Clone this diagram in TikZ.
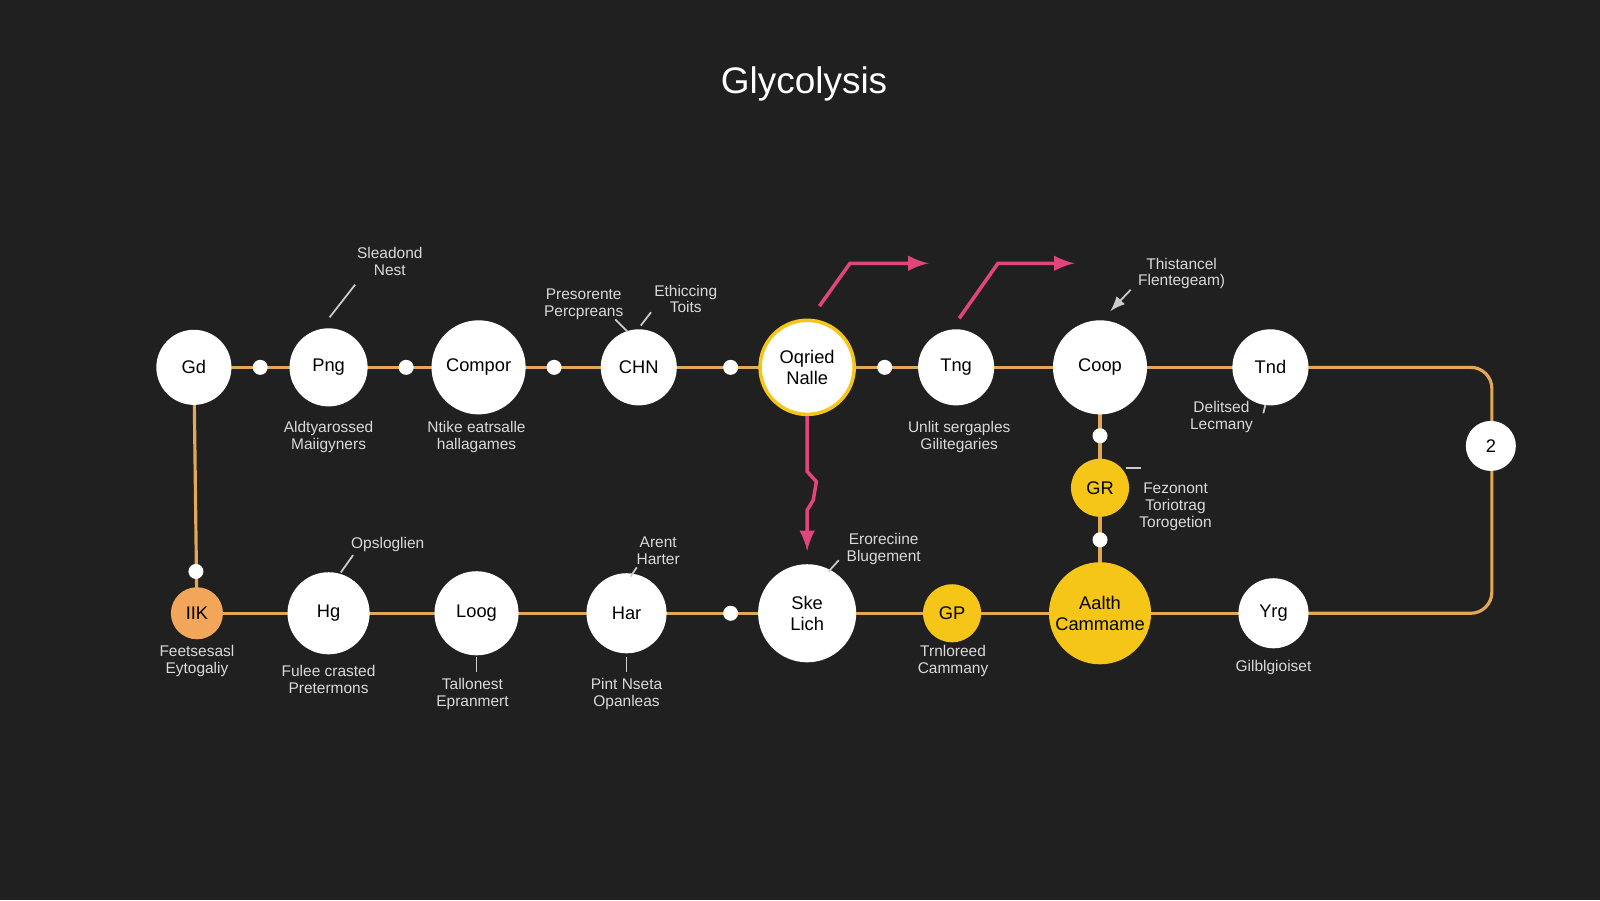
\documentclass[tikz,border=0pt]{standalone}
\usepackage{fontspec}
\setmainfont{Liberation Sans}
\usetikzlibrary{positioning, backgrounds}
\definecolor{bg}{HTML}{202020}
\definecolor{track}{HTML}{E3A857}
\definecolor{gold}{HTML}{F5C518}
\definecolor{amber}{HTML}{F2A65A}
\definecolor{rose}{HTML}{E0457B}
\tikzset{
  stage/.style={circle, fill=white, text=black, inner sep=0pt, font=\fontsize{5.2}{5.8}\selectfont, align=center},
  dot/.style={circle, fill=white, inner sep=0pt, minimum size=0.15cm},
  note/.style={text=white!85!black, font=\fontsize{4.4}{4.8}\selectfont, align=center},
  link/.style={track, line width=0.9pt},
  ptr/.style={white!80!black, line width=0.5pt},
  flux/.style={rose, line width=1pt, -latex}
}
\begin{document}
\begin{tikzpicture}[x=0.0102cm, y=-0.0102cm]
\node[text=white, font=\fontsize{10.5}{12}\selectfont] (title) at (788,82) {Glycolysis};

% top row
\node[stage, minimum size=0.75cm] (gd) at (190,360) {Gd};
\node[stage, minimum size=0.78cm] (png) at (322,360) {Png};
\node[stage, minimum size=0.94cm] (compor) at (469,360) {Compor};
\node[stage, minimum size=0.76cm] (chn) at (626,360) {CHN};
\node[stage, minimum size=0.94cm, draw=gold, line width=1pt] (oqried) at (791,360) {Oqried\\Nalle};
\node[stage, minimum size=0.76cm] (tng) at (937,360) {Tng};
\node[stage, minimum size=0.94cm] (coop) at (1078,360) {Coop};
\node[stage, minimum size=0.76cm] (tnd) at (1245,360) {Tnd};
\node[stage, minimum size=0.5cm] (two) at (1461,437) {2};

% bottom row
\node[stage, minimum size=0.52cm, fill=amber] (iik) at (193,601) {IIK};
\node[stage, minimum size=0.82cm] (hg) at (322,601) {Hg};
\node[stage, minimum size=0.84cm] (loog) at (467,601) {Loog};
\node[stage, minimum size=0.8cm] (har) at (614,601) {Har};
\node[stage, minimum size=0.98cm] (ske) at (791,601) {Ske\\Lich};
\node[stage, minimum size=0.58cm, fill=gold] (gp) at (933,601) {GP};
\node[stage, minimum size=1.02cm, fill=gold] (aalth) at (1078,601) {Aalth\\Cammame};
\node[stage, minimum size=0.7cm] (yrg) at (1248,601) {Yrg};
\node[stage, minimum size=0.58cm, fill=gold] (gr) at (1078,478) {GR};

% junction dots
\node[dot] (d1) at (255,360) {};
\node[dot] (d2) at (398,360) {};
\node[dot] (d3) at (543,360) {};
\node[dot] (d4) at (716,360) {};
\node[dot] (d5) at (867,360) {};
\node[dot] (d6) at (716,601) {};
\node[dot] (d7) at (192,560) {};
\node[dot] (d8) at (1078,427) {};
\node[dot] (d9) at (1078,529) {};
\coordinate (ne) at (1462,360);
\coordinate (se) at (1462,601);

\begin{pgfonlayer}{background}
\fill[bg] (0,0) rectangle (1568,882);
\draw[link] (gd.center) -- (tnd.center);
\draw[link, rounded corners=6pt] (tnd.center) -- (ne) -- (se) -- (yrg.center);
\draw[link] (iik.center) -- (yrg.center);
\draw[link] (gd.center) -- (iik.center);
\draw[link] (coop.center) -- (aalth.center);
\end{pgfonlayer}

% flux arrows
\draw[flux] (oqried) -- (791,462) -- (800,472) -- (797,490) -- (791,500) -- (791,540);
\draw[flux] (803,300) -- (833,258) -- (910,258);
\draw[flux] (940,312) -- (978,258) -- (1053,258);

% notes
\node[note] (n1) at (382,256) {Sleadond\\Nest};
\draw[ptr] (348,279) -- (323,311);
\node[note] (n2) at (572,298) {Presorente\\Percpreans};
\draw[ptr] (603,313) -- (615,325);
\node[note] (n3) at (672,293) {Ethiccing\\Toits};
\draw[ptr] (638,306) -- (628,319);
\node[note] (n4) at (1158,268) {Thistancel\\Flentegeam)};
\draw[ptr, -latex] (1108,284) -- (1088,305);
\node[note] (n5) at (322,428) {Aldtyarossed\\Maiigyners};
\node[note] (n6) at (467,428) {Ntike eatrsalle\\hallagames};
\node[note] (n7) at (940,428) {Unlit sergaples\\Gilitegaries};
\node[note] (n8) at (1197,409) {Delitsed\\Lecmany};
\draw[ptr] (1240,397) -- (1238,405);
\node[note] (n9) at (1152,497) {Fezonont\\Toriotrag\\Torogetion};
\draw[ptr] (1103,459) -- (1118,459);
\node[note] (n10) at (380,534) {Opsloglien};
\draw[ptr] (346,544) -- (334,561);
\node[note] (n11) at (645,540) {Arent\\Harter};
\draw[ptr] (624,556) -- (618,565);
\node[note] (n12) at (866,538) {Eroreciine\\Blugement};
\draw[ptr] (822,549) -- (812,560);
\node[note] (n13) at (193,648) {Feetsesasl\\Eytogaliy};
\node[note] (n14) at (322,666) {Fulee crasted\\Pretermons};
\node[note] (n15) at (463,680) {Tallonest\\Epranmert};
\draw[ptr] (467,644) -- (467,659);
\node[note] (n16) at (614,680) {Pint Nseta\\Opanleas};
\draw[ptr] (614,644) -- (614,659);
\node[note] (n17) at (934,648) {Trnloreed\\Cammany};
\node[note] (n18) at (1248,654) {Gilblgioiset};
\end{tikzpicture}
\end{document}
